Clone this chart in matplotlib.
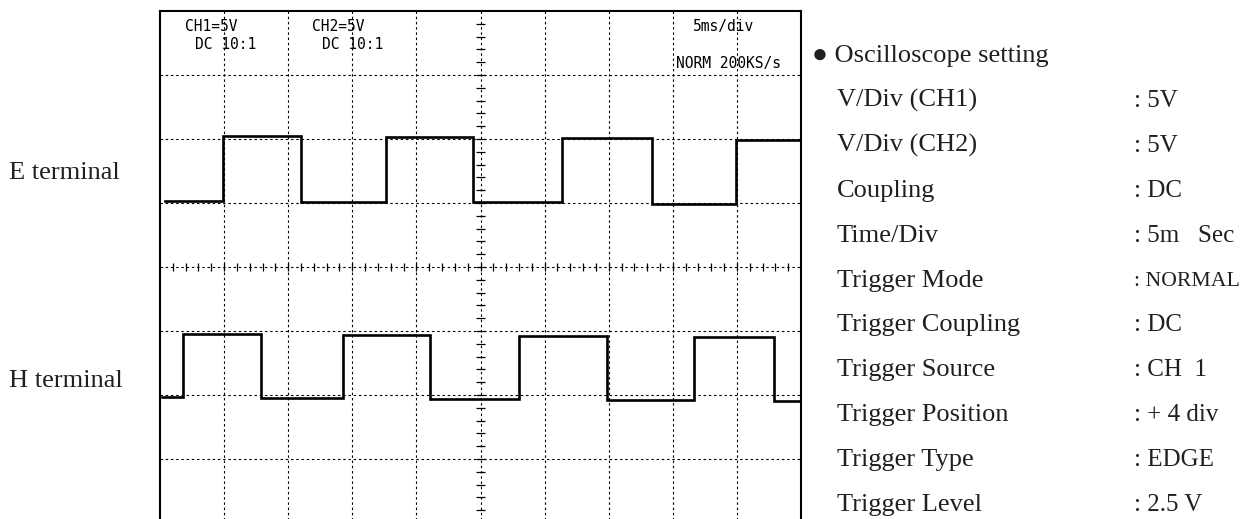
import numpy as np
import matplotlib
matplotlib.use("Agg")
import matplotlib.pyplot as plt

# ---------------- data ----------------
# Screen: 10 horizontal divisions, 8 vertical divisions (-4..4)
e_edges = [0.08, 0.98, 2.195, 3.526, 4.883, 6.267, 7.671, 8.981, 9.98]
e_levels = [1.03, 2.04, 1.02, 2.03, 1.01, 2.02, 0.98, 1.99]

h_edges = [0.03, 0.364, 1.576, 2.85, 4.212, 5.605, 6.969, 8.336, 9.578, 9.973]
h_levels = [-2.03, -1.05, -2.05, -1.07, -2.07, -1.08, -2.08, -1.10, -2.10]

channel_labels = ["E terminal", "H terminal"]

screen_top_texts = ["CH1=5V", "DC 10:1", "CH2=5V", "DC 10:1", "5ms/div", "NORM 200KS/s"]

setting_title = "\u25cf Oscilloscope setting"
setting_names = ["V/Div (CH1)", "V/Div (CH2)", "Coupling", "Time/Div",
                 "Trigger Mode", "Trigger Coupling", "Trigger Source",
                 "Trigger Position", "Trigger Type", "Trigger Level"]
setting_values = [": 5V", ": 5V", ": DC", ": 5m   Sec", ": NORMAL", ": DC",
                  ": CH  1", ": + 4 div", ": EDGE", ": 2.5 V"]

# ---------------- figure ----------------
W, H = 1243, 519
DPI = 100
fig = plt.figure(figsize=(W / DPI, H / DPI), dpi=DPI)
fig.patch.set_facecolor("white")


def fx(px):
    return px / W


def fy(py):
    return 1 - py / H


# screen area in pixels: left 160, right 801, top 11, bottom 523 (cut off)
L, R, T, B = 160, 801, 11, 523
ax = fig.add_axes([fx(L), fy(B), (R - L) / W, (B - T) / H])
ax.set_xlim(0, 10)
ax.set_ylim(-4, 4)
ax.set_xticks([])
ax.set_yticks([])
for s in ax.spines.values():
    s.set_linewidth(1.5)
    s.set_color("black")

grid_style = dict(color="black", lw=0.8, ls=(0, (2.2, 2.5)), zorder=1)
for gx in range(1, 10):
    ax.axvline(gx, **grid_style)
for gy in range(-3, 4):
    ax.axhline(gy, **grid_style)

# center graticule ticks (every 0.2 div)
tx = np.arange(0.2, 10, 0.2)
ax.vlines(tx, -0.065, 0.065, color="black", lw=0.9, zorder=1)
ty = np.arange(-3.8, 4, 0.2)
ax.hlines(ty, 5 - 0.065, 5 + 0.065, color="black", lw=0.9, zorder=1)

# traces
ax.step(e_edges, e_levels + [e_levels[-1]], where="post",
        color="black", lw=1.9, zorder=3, solid_joinstyle="miter")
ax.step(h_edges, h_levels + [h_levels[-1]], where="post",
        color="black", lw=1.9, zorder=3, solid_joinstyle="miter")

# screen texts
mono = dict(family="DejaVu Sans Mono", fontsize=10.5, color="black", zorder=5)
pos = [(185, 31), (195, 49), (312, 31), (322, 49), (693, 31), (676, 68)]
for txt, (px, py) in zip(screen_top_texts, pos):
    fig.text(fx(px), fy(py), txt, ha="left", va="baseline", **mono)

# left labels
serif = dict(family="Liberation Serif", fontsize=19, color="#231f20")
fig.text(fx(9), fy(179), channel_labels[0], ha="left", va="baseline", **serif)
fig.text(fx(9), fy(387), channel_labels[1], ha="left", va="baseline", **serif)

# settings panel
fig.text(fx(812), fy(62), setting_title, ha="left", va="baseline", **serif)
serif_v = dict(serif, fontsize=18)
step = 44.9
for i, (n, v) in enumerate(zip(setting_names, setting_values)):
    by = 62 + step * (i + 1)
    fig.text(fx(837), fy(by), n, ha="left", va="baseline", **serif)
    fig.text(fx(1134), fy(by), v, ha="left", va="baseline", **serif_v)

# keep values inside the figure (shrink any that would overflow)
fig.canvas.draw()
renderer = fig.canvas.get_renderer()
for t in fig.texts:
    bb = t.get_window_extent(renderer)
    if bb.x1 > W - 3:
        scale = (W - 3 - bb.x0) / bb.width
        t.set_fontsize(t.get_fontsize() * scale)

fig.savefig("out.png", dpi=DPI)
